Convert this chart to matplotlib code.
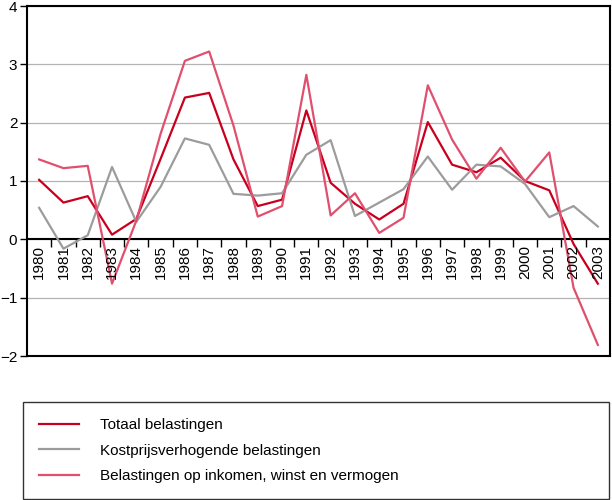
import numpy as np
import matplotlib
matplotlib.use("Agg")
import matplotlib.pyplot as plt

plt.rcParams['font.family'] = ['Liberation Sans', 'DejaVu Sans']

years = [str(y) for y in range(1980, 2004)]

totaal = [1.02, 0.63, 0.74, 0.08, 0.35, 1.38, 2.43, 2.51, 1.37, 0.57, 0.68, 2.21,
          0.97, 0.61, 0.34, 0.61, 2.01, 1.28, 1.15, 1.40, 1.00, 0.84, -0.08, -0.76]
kostprijs = [0.54, -0.16, 0.07, 1.24, 0.30, 0.90, 1.73, 1.62, 0.78, 0.75, 0.79, 1.45,
             1.70, 0.40, 0.63, 0.86, 1.42, 0.85, 1.28, 1.25, 0.95, 0.38, 0.57, 0.22]
inkomen = [1.37, 1.22, 1.26, -0.76, 0.32, 1.81, 3.06, 3.22, 1.95, 0.39, 0.57, 2.82,
           0.41, 0.79, 0.11, 0.37, 2.64, 1.71, 1.04, 1.57, 0.99, 1.49, -0.83, -1.81]

labels = ['Totaal belastingen', 'Kostprijsverhogende belastingen',
          'Belastingen op inkomen, winst en vermogen']
colors = ['#c8001e', '#9c9c9c', '#e0506e']

fig = plt.figure(figsize=(6.12, 5.0), dpi=100)
ax = fig.add_axes([27/612, 1-356/500, 583/612, 350/500])

x = np.arange(len(years))
for vals, lab, c in zip([totaal, kostprijs, inkomen], labels, colors):
    ax.plot(x, vals, color=c, lw=1.6, label=lab, zorder=3)

ax.set_xlim(-0.5, len(years) - 0.5)
ax.set_ylim(-2, 4)
ax.set_yticks([-2, -1, 0, 1, 2, 3, 4])
ax.yaxis.grid(True, color='#b4b4b4', lw=0.9)
ax.set_axisbelow(True)
ax.tick_params(axis='y', labelsize=11, length=5, width=1, pad=2)
ax.set_xticks([])
for s in ax.spines.values():
    s.set_linewidth(1.5)

ax.axhline(0, color='black', lw=1.5, zorder=2)
ax.vlines(x[:-1] + 0.5, -0.14, 0, color='black', lw=1, zorder=2)
for i, yr in enumerate(years):
    ax.annotate(yr, (i, 0), xytext=(0, -4), textcoords='offset points',
                rotation=90, ha='center', va='top', fontsize=11)

# legend box sits under the plot
leg = fig.legend(loc='upper left', bbox_to_anchor=(23/612, 1/500, 586/612, 97/500),
                 mode='expand', fontsize=11, frameon=True, fancybox=False,
                 edgecolor='black', handlelength=2.6, handletextpad=1.4,
                 borderpad=1.05, labelspacing=0.75, borderaxespad=0)
leg.get_frame().set_linewidth(1.0)

fig.savefig('out.png', dpi=100)
